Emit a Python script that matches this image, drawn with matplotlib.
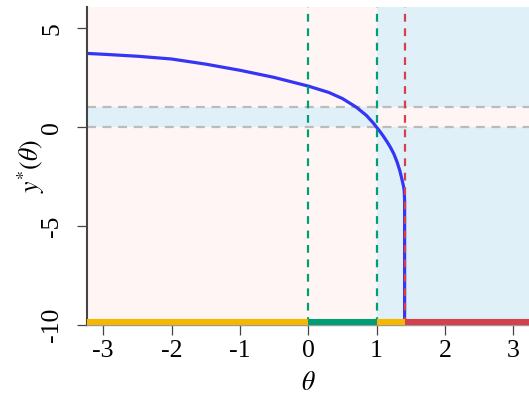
import matplotlib.pyplot as plt

# datos
theta = [-3.23, -3.0, -2.5, -2.0, -1.5, -1.0, -0.5, 0.0, 0.3, 0.5, 0.7, 0.85,
         0.95, 1.0, 1.05, 1.1, 1.15, 1.2, 1.25, 1.3, 1.34, 1.365, 1.38, 1.395,
         1.405, 1.41, 1.41]
y_star = [3.73, 3.69, 3.59, 3.45, 3.19, 2.88, 2.52, 2.08, 1.76, 1.45, 1.02, 0.60,
          0.22, 0.0, -0.22, -0.46, -0.72, -1.0, -1.33, -1.76, -2.2, -2.55, -2.78,
          -3.0, -3.25, -3.7, -10.0]

green_lines = [0, 1]
red_line = 1.414
band = [0, 1]
xlim = (-3.23, 3.23)
ylim = (-10, 6.06)

# segmentos de color en la base
seg_x = [(-3.23, 0), (0, 1), (1, 1.414), (1.414, 3.23)]
seg_col = ['#F5B700', '#009E73', '#F5B700', '#D5404F']

pink = '#FFF5F4'
blue = '#DFF0F8'

plt.rcParams['font.family'] = 'Liberation Serif'
plt.rcParams['mathtext.fontset'] = 'stix'

fig = plt.figure(figsize=(5.29, 3.97), dpi=100)
ax = fig.add_axes([0.1654, 0.1814, 0.8346, 0.8])

# fondos
ax.axvspan(xlim[0], 1, color=pink, lw=0, zorder=0)
ax.axvspan(1, xlim[1], color=blue, lw=0, zorder=0)
ax.fill_between([xlim[0], 1], band[0], band[1], color=blue, lw=0, zorder=0.5)
ax.fill_between([1, xlim[1]], band[0], band[1], color=pink, lw=0, zorder=0.5)

for yy in band:
    ax.axhline(yy, color='#BBBBBB', ls=(0, (4, 3)), lw=1.6, zorder=1)

ax.plot(theta, y_star, color='#3535F5', lw=2.3, zorder=2)

for xx in green_lines:
    ax.axvline(xx, color='#009E73', ls=(0, (3.5, 3)), lw=1.6, zorder=3)
ax.axvline(red_line, color='#D5404F', ls=(0, (3.5, 3)), lw=1.6, zorder=3)

for (a, b), c in zip(seg_x, seg_col):
    ax.plot([a, b], [-9.85, -9.85], color=c, lw=4.4, solid_capstyle='butt', zorder=4)

ax.set_xlim(*xlim)
ax.set_ylim(*ylim)
ax.set_xticks([-3, -2, -1, 0, 1, 2, 3])
ax.set_yticks([-10, -5, 0, 5])
ax.set_yticklabels(['-10', '-5', '0', '5'], rotation=90, va='center')
ax.set_xticklabels(['-3', '-2', '-1', '0', '1', '2', '3'])
ax.tick_params(axis='both', length=7.5, width=0.9, color='#444444', labelsize=18.5)
ax.tick_params(axis='x', pad=3.5)
ax.tick_params(axis='y', pad=10)

ax.spines['top'].set_visible(False)
ax.spines['right'].set_visible(False)
ax.spines['left'].set_color('#444444')
ax.spines['left'].set_linewidth(1.5)
ax.spines['bottom'].set_color('#999999')
ax.spines['bottom'].set_linewidth(1.0)

ax.set_xlabel(r'$\theta$', fontsize=18.5, labelpad=7)
ax.set_ylabel(r'$y^{*}(\theta)$', fontsize=18.5, labelpad=-4)

fig.savefig('out.png', dpi=100)
